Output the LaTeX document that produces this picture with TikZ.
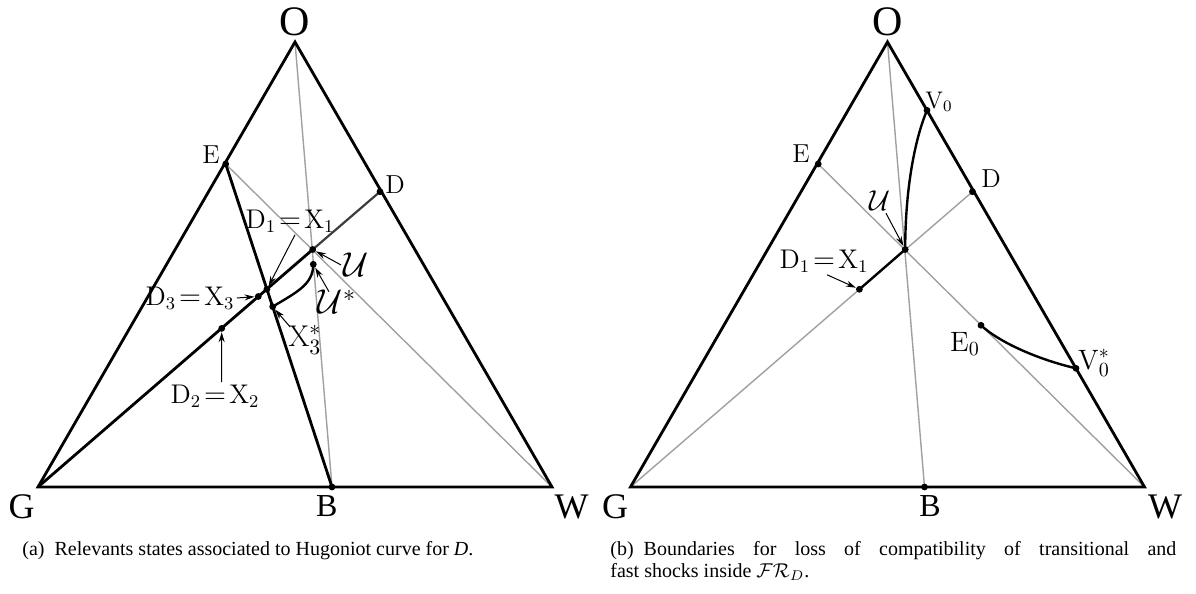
\documentclass[tikz,border=0pt]{standalone}
\usepackage{amsmath,amssymb}
\usepackage{fontspec}
\newfontfamily\capfont{Liberation Serif}
\usepackage{tikz}
\usetikzlibrary{arrows.meta,positioning,calc,backgrounds}
\definecolor{cGuide}{HTML}{A0A09C}
\definecolor{cDark}{HTML}{3C3C3C}
\newcommand{\fs}[1]{\fontsize{#1}{#1}\selectfont}

\begin{document}
\begin{tikzpicture}[
    x=0.5pt, y=-0.5pt,
    >=Stealth,
    side/.style={line width=1.4pt, line join=miter},
    guide/.style={cGuide, line width=0.7pt},
    hug/.style={line width=1.2pt},
    dot/.style={circle, fill=black, inner sep=0pt, minimum size=3.4pt},
    corner/.style={font=\capfont\fs{18}, inner sep=0pt},
    lbl/.style={font=\fs{13.5}, inner sep=1pt},
    pointer/.style={->, >={Stealth[length=5pt,width=3pt]}, line width=0.5pt},
    capt/.style={font=\capfont\fontsize{10}{11}\selectfont, inner sep=0pt}
]
\useasboundingbox (0,0) rectangle (1196,594);

% --- (a) states on the Hugoniot curve ---
\coordinate (aO) at (295,42);
\coordinate (aG) at (38,487);
\coordinate (aW) at (552,487);
\node[dot] (aB)   at (332,487) {};
\node[dot] (aE)   at (225.7,164) {};
\node[dot] (aD)   at (380,191.7) {};
\node[dot] (aU)   at (312.7,249.5) {};
\node[dot] (aUs)  at (313.3,264.3) {};
\node[dot] (aX1)  at (266.9,289.3) {};
\node[dot] (aX3)  at (258.3,296.5) {};
\node[dot] (aX2)  at (221.7,328.4) {};
\node[dot] (aX3s) at (272.7,306.7) {};

\begin{scope}[on background layer]
\draw[guide] (aO) -- (aB.center);
\draw[guide] (aE.center) -- (aW);
\draw[side] (aE.center) -- (aB.center);
\draw[cDark, line width=1.1pt] (aU.center) -- (aD.center);
\draw[side] (aG) -- (aU.center);
\draw[hug] (aUs.center) .. controls (313.3,285) and (295,293) .. (aX3s.center);
\draw[side] (aO) -- (aG) -- (aW) -- cycle;
\end{scope}

\node[corner, font=\capfont\fs{21}] (aOl) at (295,22) {O};
\node[corner] (aGl) at (21.7,507) {G};
\node[corner] (aWl) at (571.7,507) {W};
\node[corner, font=\capfont\fs{16}] (aBl) at (326.7,506) {B};
\node[lbl, font=\fs{13}] (aEl) at (211,155) {E};
\node[lbl, font=\fs{13}] (aDl) at (395,185) {D};
\node[lbl] (aX1l) at (290,221) {$\mathrm{D}_1\!=\!\mathrm{X}_1$};
\node[lbl, font=\fs{17}] (aUl) at (356,265) {$\mathcal{U}$};
\node[lbl, font=\fs{17}] (aUsl) at (337,302) {$\mathcal{U}^*$};
\node[lbl, font=\fs{15}] (aX3sl) at (305,340) {$\mathrm{X}_3^*$};
\node[lbl] (aX3l) at (190,298) {$\mathrm{D}_3\!=\!\mathrm{X}_3$};
\node[lbl] (aX2l) at (215,396) {$\mathrm{D}_2\!=\!\mathrm{X}_2$};

\draw[pointer] ([xshift=2.5pt]aX1l.south) -- (aX1);
\draw[pointer] (aUl.west) -- (aU);
\draw[pointer] ([xshift=-4pt,yshift=-2pt]aUsl.north) -- (aUs);
\draw[pointer] ([xshift=2pt,yshift=-2pt]aX3sl.north west) -- (aX3s);
\draw[pointer] (aX3l.east) -- (aX3);
\draw[pointer] ([xshift=3.35pt]aX2l.north) -- (aX2);

% --- (b) boundaries inside FR_D ---
\coordinate (bO) at (887.5,42);
\coordinate (bG) at (630.5,487);
\coordinate (bW) at (1144.5,487);
\node[dot] (bB)   at (924.5,487) {};
\node[dot] (bE)   at (818.2,164) {};
\node[dot] (bD)   at (972.5,191.7) {};
\node[dot] (bU)   at (905.2,249.5) {};
\node[dot] (bX1)  at (859.4,289.3) {};
\node[dot] (bV0)  at (927,110.3) {};
\node[dot] (bE0)  at (981,325.3) {};
\node[dot] (bV0s) at (1076,368.3) {};

\begin{scope}[on background layer]
\draw[guide] (bO) -- (bB.center);
\draw[guide] (bE.center) -- (bW);
\draw[guide] (bG) -- (bD.center);
\draw[hug] (bX1.center) -- (bU.center);
\draw[hug] (bU.center) .. controls (905.2,190) and (914.5,140) .. (bV0.center);
\draw[hug] (bE0.center) .. controls (1000,343) and (1040,360) .. (bV0s.center);
\draw[side] (bO) -- (bG) -- (bW) -- cycle;
\end{scope}

\node[corner, font=\capfont\fs{21}] (bOl) at (887.5,22) {O};
\node[corner] (bGl) at (615,507) {G};
\node[corner] (bWl) at (1165,507) {W};
\node[corner, font=\capfont\fs{16}] (bBl) at (930,506) {B};
\node[lbl, font=\fs{13}] (bEl) at (801,154) {E};
\node[lbl, font=\fs{13}] (bDl) at (991,179) {D};
\node[lbl, font=\fs{12}] (bV0l) at (939,102) {V$_0$};
\node[lbl, font=\fs{15}] (bUl) at (880,201) {$\mathcal{U}$};
\node[lbl] (bX1l) at (824,261) {$\mathrm{D}_1\!=\!\mathrm{X}_1$};
\node[lbl, font=\fs{14}] (bE0l) at (965,344) {E$_0$};
\node[lbl, font=\fs{14}] (bV0sl) at (1094,363) {V$_0^*$};

\draw[pointer] ([xshift=3pt]bUl.south) -- (bU);
\draw[pointer] ([xshift=1.5pt]bX1l.south) -- (bX1);

% captions
\node[capt, anchor=base west] (capA) at (22,555)
  {(a)\enspace Relevants states associated to Hugoniot curve for \textit{D}.};
\node[capt, anchor=north west, text width=283pt, align=justify] (capB) at (610,541)
  {(b)\enspace Boundaries for loss of compatibility of transitional and\linebreak
   fast shocks inside $\mathcal{FR}_D$.};

\end{tikzpicture}
\end{document}
